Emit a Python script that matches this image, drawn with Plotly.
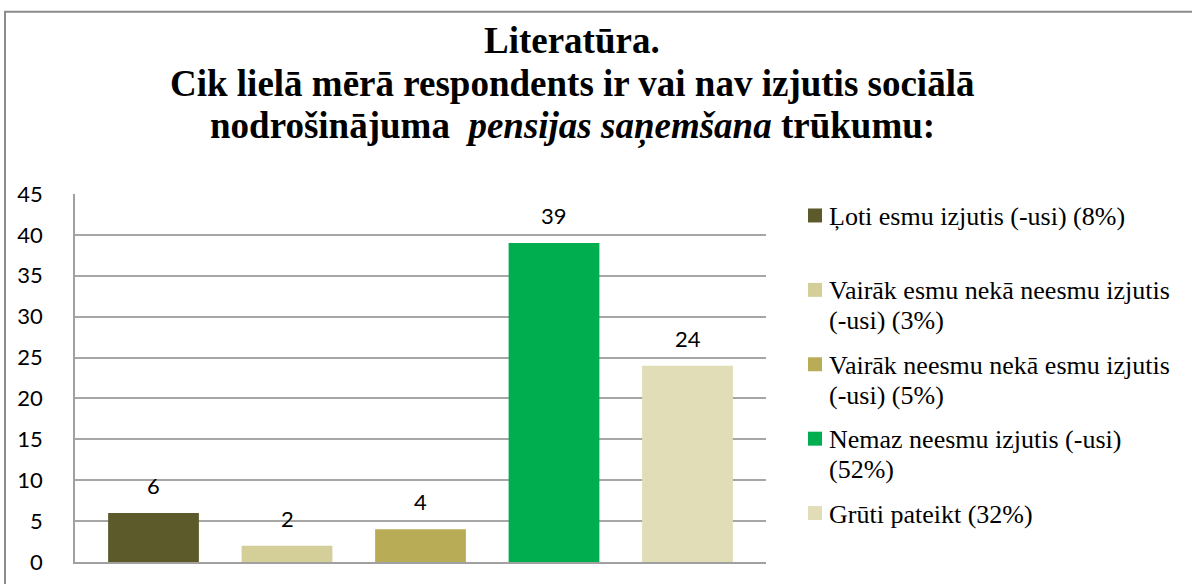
import plotly.graph_objects as go

# Survey answers (legend labels), counts and bar colours
categories = [
    "Ļoti esmu izjutis (-usi) (8%)",
    "Vairāk esmu nekā neesmu izjutis<br>(-usi) (3%)",
    "Vairāk neesmu nekā esmu izjutis<br>(-usi) (5%)",
    "Nemaz neesmu izjutis (-usi)<br>(52%)",
    "Grūti pateikt (32%)",
]
values = [6, 2, 4, 39, 24]
colors = ["#5c5a2b", "#d4ce99", "#b8ad56", "#00ad4f", "#e1ddb6"]
y_ticks = [0, 5, 10, 15, 20, 25, 30, 35, 40, 45]
title_lines = [
    "<b>Literatūra.</b>",
    "<b>Cik lielā mērā respondents ir vai nav izjutis sociālā</b>",
    "<b>nodrošinājuma  <i>pensijas saņemšana</i> trūkumu:</b>",
]

SERIF = "Liberation Serif"
SANS = "Lato"

W, H = 1192, 584
L, R, T, B = 75, 426, 193.5, 22
pw, ph = W - L - R, H - T - B


def py(row):
    """Pixel row from the top of the page -> paper y."""
    return (H - B - row) / ph


def px(col):
    """Pixel column from the left of the page -> paper x."""
    return (col - L) / pw


fig = go.Figure()
for i, (name, v, c) in enumerate(zip(categories, values, colors)):
    fig.add_trace(go.Bar(
        x=[i], y=[v], name=name.replace("<br>", " "), showlegend=False,
        marker=dict(color=c, line=dict(width=0)), width=0.68,
        hoverinfo="skip",
    ))
    fig.add_annotation(
        x=i, y=v, text=str(v), showarrow=False, yanchor="bottom", yshift=12,
        font=dict(family=SANS, size=22, color="#000"),
    )

# legend on the right: evenly spaced rows, wrapped labels
LEG_TOP, LEG_STEP, LINE_STEP = 215, 74.5, 30
for i, (name, c) in enumerate(zip(categories, colors)):
    row = LEG_TOP + LEG_STEP * i
    fig.add_shape(
        type="rect", xref="paper", yref="paper",
        x0=px(808), x1=px(822), y0=py(row + 7), y1=py(row - 7),
        fillcolor=c, line=dict(width=0),
    )
    for j, part in enumerate(name.split("<br>")):
        fig.add_annotation(
            xref="paper", yref="paper", x=px(827), y=py(row + LINE_STEP * j + 1),
            xanchor="left", yanchor="middle", text=part, showarrow=False,
            font=dict(family=SERIF, size=26, color="#000"),
        )

# three-line bold title, centred over the chart
for k, line in enumerate(title_lines):
    fig.add_annotation(
        xref="paper", yref="paper", x=px(572), y=py(40 + 43 * k),
        xanchor="center", yanchor="middle", text=line, showarrow=False,
        font=dict(family=SERIF, size=37, color="#000"),
    )

# outer chart frame
fig.add_shape(
    type="rect", xref="paper", yref="paper",
    x0=px(5), x1=px(W + 10), y0=py(H + 10), y1=py(11),
    line=dict(color="#8c8c8c", width=2), fillcolor="rgba(0,0,0,0)", layer="below",
)

fig.update_layout(
    width=W, height=H,
    margin=dict(l=L, r=R, t=T, b=B, autoexpand=False),
    paper_bgcolor="white", plot_bgcolor="white",
    barmode="overlay",
    showlegend=False,
    xaxis=dict(
        range=[-0.588, 4.588], showticklabels=False, showgrid=False,
        zeroline=False, showline=True, linecolor="#a0a0a0", linewidth=1.5,
        fixedrange=True,
    ),
    yaxis=dict(
        range=[0, 45], tickvals=y_ticks, showgrid=True, gridcolor="#a6a6a6",
        gridwidth=1.5, zeroline=False, showline=True, linecolor="#a0a0a0",
        linewidth=1.5, ticks="", ticklabelstandoff=26,
        tickfont=dict(family=SANS, size=22, color="#000"),
        fixedrange=True,
    ),
)

fig.write_html("out.html")
